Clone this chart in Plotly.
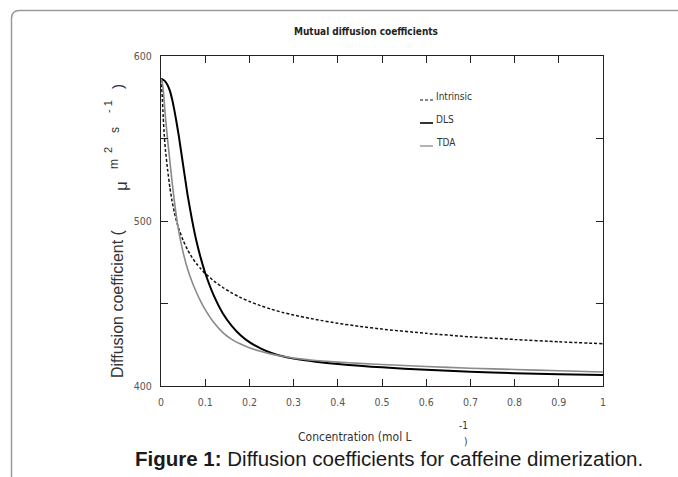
import plotly.graph_objects as go

# Concentration grid (mol/L) and the three mutual diffusion coefficient curves (µm²/s)
concentration = [0, 0.0025, 0.005, 0.0075, 0.01, 0.015, 0.02, 0.025, 0.03, 0.035,
                 0.04, 0.05, 0.06, 0.07, 0.08, 0.09, 0.1, 0.12, 0.14, 0.16,
                 0.18, 0.2, 0.225, 0.25, 0.275, 0.3, 0.35, 0.4, 0.45, 0.5,
                 0.6, 0.7, 0.8, 0.9, 1.0]

intrinsic = [586, 577, 563, 551.5, 543, 531, 520.5, 512, 505.5, 500,
             495.5, 488.3, 482.6, 478, 474.2, 471, 468.2, 463.6, 459.7, 456.4,
             453.6, 451.2, 448.7, 446.5, 444.6, 443, 440.3, 438, 436.1, 434.5,
             431.9, 429.8, 428.2, 426.8, 425.6]

dls = [586, 585.9, 585.6, 585.1, 584.4, 582.3, 579, 574, 567.5, 560,
       552, 534, 516, 501, 488, 477.5, 468.5, 454.5, 444, 436.5,
       430.8, 426.6, 422.8, 420, 418, 416.6, 414.7, 413.3, 412.2, 411.3,
       409.8, 408.7, 407.8, 407.1, 406.6]

tda = [586, 584.5, 579.5, 571.5, 563, 549, 536.5, 524, 512.5, 502.5,
       494, 481, 471, 463.3, 456.8, 451.2, 446.3, 438.3, 432.4, 428.3,
       425.4, 423.2, 421, 419.3, 418, 416.9, 415.5, 414.5, 413.7, 413,
       411.8, 410.8, 410, 409.2, 408.5]

series_names = ["Intrinsic", "DLS", "TDA"]

x_ticks = [0, 0.1, 0.2, 0.3, 0.4, 0.5, 0.6, 0.7, 0.8, 0.9, 1]
x_tick_text = ["0", "0.1", "0.2", "0.3", "0.4", "0.5", "0.6", "0.7", "0.8", "0.9", "1"]
y_ticks = [400, 450, 500, 550, 600]
y_tick_text = ["400", "", "500", "", "600"]

W_FIG, H_FIG = 678, 477
L, R, T, B = 161, 603, 56, 386
PW, PH = R - L, B - T

NARROW = "Liberation Sans Narrow, DejaVu Sans Condensed, Arial Narrow, Liberation Sans, sans-serif"
SANS = "Liberation Sans, Arial, sans-serif"


def fx(p):
    """pixel x -> paper x"""
    return (p - L) / PW


def fy(p):
    """pixel y -> paper y"""
    return (B - p) / PH


styles = {
    "Intrinsic": dict(color="#111111", width=1.5, dash="3px,2px"),
    "DLS": dict(color="#000000", width=2),
    "TDA": dict(color="#8a8a8a", width=1.6),
}

fig = go.Figure()
for name, vals in zip(series_names, [intrinsic, dls, tda]):
    fig.add_trace(go.Scatter(x=concentration, y=vals, mode="lines", name=name,
                             line=dict(shape="spline", smoothing=0.5, **styles[name]),
                             showlegend=False))

axis_common = dict(showline=True, linecolor="#222222", linewidth=1.4, mirror="ticks",
                   ticks="inside", ticklen=7, tickwidth=1, tickcolor="#222222",
                   showgrid=False, zeroline=False,
                   tickfont=dict(family=NARROW, size=10.5, color="#555555"))

fig.update_xaxes(range=[0, 1], tickvals=x_ticks, ticktext=x_tick_text,
                 ticklabelstandoff=6, **axis_common)
fig.update_yaxes(range=[400, 600], tickvals=y_ticks, ticktext=y_tick_text,
                 ticklabelstandoff=6, **axis_common)

annotations = []


def text_at(px_, py_, txt, size, family=NARROW, color="#333333", angle=0,
            xanchor="center", yanchor="middle"):
    annotations.append(dict(x=fx(px_), y=fy(py_), xref="paper", yref="paper", text=txt,
                            showarrow=False, textangle=angle, xanchor=xanchor,
                            yanchor=yanchor, font=dict(family=family, size=size, color=color)))


# chart title
text_at(366, 31, "<b>Mutual diffusion coefficients</b>", 10, color="#222222")

# x-axis title with its loose superscript
text_at(355, 437, "Concentration (mol L", 12)
text_at(463, 425, "-1", 10)
text_at(466, 441, ")", 10)

# y-axis title pieces
text_at(117, 304, "Diffusion coefficient (", 16, family=SANS, angle=-90)
text_at(121, 186, "μ", 17, family=SANS, angle=-90)
text_at(114, 164, "m", 12, family=SANS, angle=-90)
text_at(108, 150, "2", 11, family=SANS, angle=-90)
text_at(115, 130, "s", 12, family=SANS, angle=-90)
text_at(108, 107, "- 1", 11, family=SANS, angle=-90)
text_at(117, 87, ")", 15, family=SANS, angle=-90)

# caption
text_at(389, 458, "<b>Figure 1:</b> Diffusion coefficients for caffeine dimerization.",
        20.5, family=SANS, color="#1a1a1a")

# legend drawn as short line samples with labels
shapes = []
legend_rows = [96, 119, 142]
for name, row in zip(series_names, legend_rows):
    st = styles[name]
    shapes.append(dict(type="line", xref="paper", yref="paper",
                       x0=fx(420), x1=fx(433), y0=fy(row + 4), y1=fy(row + 4),
                       line=dict(color=st["color"], width=st["width"] * 0.8,
                                 dash=st.get("dash", "solid"))))
    text_at(434, row, name, 10, color="#333333", xanchor="left")

# rounded page frame (top and left edges)
r = 8
x0, y0 = 11.5, 10.5
path = (f"M {fx(x0)},{fy(500)} L {fx(x0)},{fy(y0 + r)} "
        f"Q {fx(x0)},{fy(y0)} {fx(x0 + r)},{fy(y0)} L {fx(700)},{fy(y0)}")
shapes.append(dict(type="path", xref="paper", yref="paper", path=path,
                   line=dict(color="#9a9a9a", width=1.5)))

fig.update_layout(width=W_FIG, height=H_FIG,
                  margin=dict(l=L, r=W_FIG - R, t=T, b=H_FIG - B),
                  paper_bgcolor="white", plot_bgcolor="white",
                  annotations=annotations, shapes=shapes)

fig.write_html("out.html")
